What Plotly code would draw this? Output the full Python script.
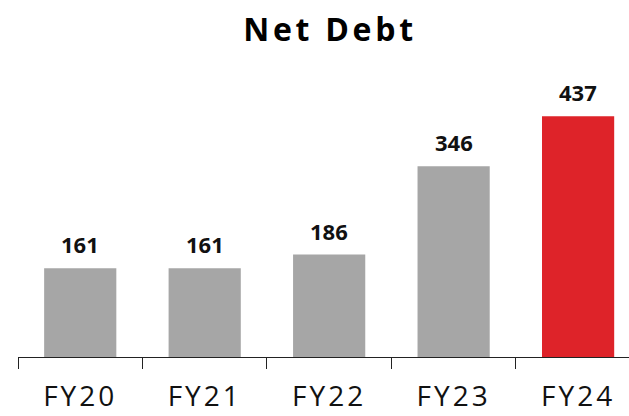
import plotly.graph_objects as go

categories = ["FY20", "FY21", "FY22", "FY23", "FY24"]
net_debt = [161, 161, 186, 346, 437]
bar_colors = ["#A6A6A6", "#A6A6A6", "#A6A6A6", "#A6A6A6", "#DE2329"]
title_text = "Net Debt"

FONT = "Open Sans"

fig = go.Figure()
fig.add_trace(go.Bar(
    x=categories, y=net_debt, marker=dict(color=bar_colors, line=dict(width=0)),
    width=0.58, hoverinfo="skip",
))

for c, v in zip(categories, net_debt):
    fig.add_annotation(
        x=c, y=v, text=f"<b>{v}</b>", showarrow=False, yanchor="bottom",
        yshift=7, font=dict(family=FONT, size=22, color="#111111"),
    )

fig.update_layout(
    width=629, height=416,
    margin=dict(l=18, r=0, t=60, b=59, autoexpand=False),
    paper_bgcolor="white", plot_bgcolor="white",
    showlegend=False,
    title=dict(
        text=f"<b>{title_text}</b>", x=330 / 629, xref="container", xanchor="center",
        y=1 - 29.5 / 416, yref="container", yanchor="middle",
        font=dict(family=FONT, size=32, color="#000000"),
        automargin=False,
    ),
    xaxis=dict(
        type="category", range=[-0.5, 4.409], automargin=False,
        showline=True, linecolor="#222222", linewidth=1.3,
        ticks="outside", tickson="boundaries", ticklen=11,
        tickcolor="#222222", tickwidth=1.3,
        tickfont=dict(family=FONT, size=28, color="#111111"),
        ticklabelstandoff=14,
        showgrid=False, zeroline=False,
    ),
    yaxis=dict(
        range=[0, 539], visible=False, showgrid=False, zeroline=False,
        automargin=False,
    ),
)

post = """
var st = document.createElement('style');
st.innerHTML = 'html,body{margin:0;padding:0;overflow:hidden;} .gtitle{letter-spacing:3.7px;} .xtick text{letter-spacing:3px;}';
document.head.appendChild(st);
"""

fig.write_html("out.html", post_script=post, config={"displayModeBar": False})
